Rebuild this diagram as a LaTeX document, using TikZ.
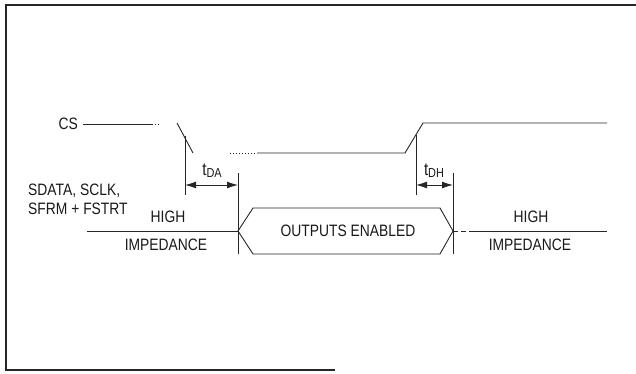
\documentclass[tikz,border=0pt]{standalone}
\usepackage{fontspec}
\newfontfamily\cond{Liberation Sans}[FakeStretch=0.84]
\usetikzlibrary{arrows.meta}
\tikzset{
  sig/.style={draw=black!85, line width=0.9pt},
  dots/.style={sig, dash pattern=on 1pt off 2pt},
  dsh/.style={sig, dash pattern=on 5pt off 3pt},
  frame/.style={draw=black!85, line width=1.6pt},
  dim/.style={draw=black!85, line width=0.9pt, {Latex[length=11pt,width=7pt]}-{Latex[length=11pt,width=7pt]}},
  lbl/.style={inner sep=0pt, font=\cond\fontsize{16.5}{19}\selectfont, text=black!90},
}
\newcommand{\tsub}[1]{{\fontsize{18}{18}\selectfont t}\raisebox{-2pt}{\fontsize{13}{13}\selectfont #1}}
\begin{document}
\begin{tikzpicture}[x=1pt,y=-1pt]
\useasboundingbox (0,0) rectangle (636,374);
% frame
\coordinate (fr1) at (636,5);
\coordinate (fr2) at (6,5);
\coordinate (fr3) at (6,370);
\coordinate (fr4) at (335,370);
\draw[frame] (fr1) -- (fr2) -- (fr3) -- (fr4);
% CS waveform
\coordinate (c0) at (83,124);
\coordinate (c1) at (152,124);
\coordinate (c2) at (159,124);
\coordinate (f1) at (177,123);
\coordinate (f2) at (193,153);
\coordinate (l0) at (230,153);
\coordinate (l1) at (257,153);
\coordinate (l2) at (405,153);
\coordinate (r1) at (423,123);
\coordinate (r2) at (607,123);
\draw[sig] (c0) -- (c1);
\draw[dots] (c1) -- (c2);
\draw[sig] (f1) -- (f2);
\draw[dots] (l0) -- (l1);
\draw[sig] (l1) -- (l2) -- (r1) -- (r2);
% verticals
\coordinate (v1a) at (185,136);
\coordinate (v1b) at (185,195);
\coordinate (v2a) at (238,173);
\coordinate (v2b) at (238,254);
\coordinate (v3a) at (416,135);
\coordinate (v3b) at (416,195);
\coordinate (v4a) at (453,173);
\coordinate (v4b) at (453,254);
\draw[sig] (v1a) -- (v1b);
\draw[sig] (v2a) -- (v2b);
\draw[sig] (v3a) -- (v3b);
\draw[sig] (v4a) -- (v4b);
% dimension arrows
\coordinate (a1) at (185,185);
\coordinate (a2) at (238,185);
\coordinate (a3) at (416,185);
\coordinate (a4) at (453,185);
\draw[dim] (a1) -- (a2);
\draw[dim] (a3) -- (a4);
% data waveform
\coordinate (d0) at (87,231);
\coordinate (hL) at (238,231);
\coordinate (hTL) at (253,208);
\coordinate (hTR) at (440,208);
\coordinate (hR) at (453,231);
\coordinate (hBR) at (440,254);
\coordinate (hBL) at (253,254);
\coordinate (d1) at (474,231);
\coordinate (d2) at (607,231);
\draw[sig] (d0) -- (hL);
\draw[sig] (hL) -- (hTL) -- (hTR) -- (hR) -- (hBR) -- (hBL) -- cycle;
\draw[dsh] (hR) -- (d1);
\draw[sig] (d1) -- (d2);
% labels
\node[lbl, anchor=east] (cs) at (78,124) {CS};
\node[lbl, align=left, anchor=west] (sd) at (28,199.5) {SDATA, SCLK,\\SFRM + FSTRT};
\node[lbl] (hi1) at (168,217) {HIGH};
\node[lbl] (im1) at (166,245) {IMPEDANCE};
\node[lbl] (oe) at (348,231) {OUTPUTS ENABLED};
\node[lbl] (hi2) at (531,217) {HIGH};
\node[lbl] (im2) at (530,245) {IMPEDANCE};
\node[lbl] (tda) at (212,171) {\tsub{DA}};
\node[lbl] (tdh) at (434,171) {\tsub{DH}};
\end{tikzpicture}
\end{document}
